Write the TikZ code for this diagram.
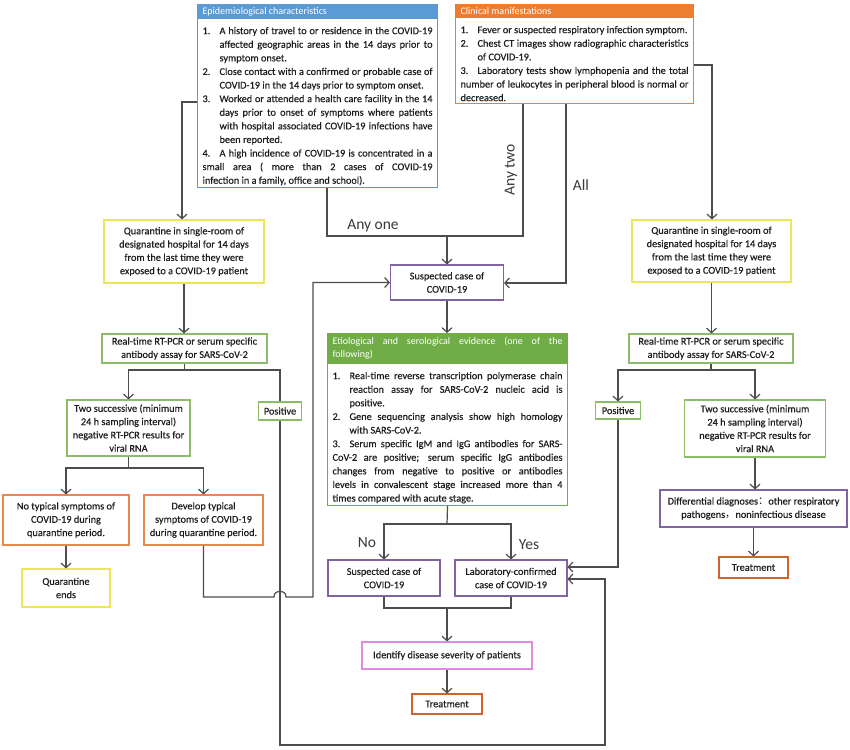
\documentclass[tikz,border=0pt]{standalone}
\usepackage{fontspec}
\setmainfont{Carlito}[FakeBold=0.35]
\newfontfamily\hdrfont{Carlito}
\newfontfamily\cjk{Noto Sans CJK SC}
\usetikzlibrary{arrows.meta}
\definecolor{txt}{HTML}{1E1E1E}
\definecolor{cLine}{HTML}{4D4D4D}
\definecolor{cLbl}{HTML}{3A3A3A}
\definecolor{cBlue}{HTML}{5B9BD5}
\definecolor{cOrange}{HTML}{ED7D31}
\definecolor{cGreenH}{HTML}{70AD47}
\definecolor{cGrn}{HTML}{8CBD6A}
\definecolor{cYel}{HTML}{EEE65A}
\definecolor{cPur}{HTML}{8064A2}
\definecolor{cOrg}{HTML}{E8874E}
\definecolor{cTrt}{HTML}{D0652B}
\definecolor{cPink}{HTML}{E28AE0}
\newcommand{\lstitem}[2]{\par\baselineskip=13.6pt\parskip=0pt\lineskiplimit=-20pt\noindent\hangindent=17pt\hangafter=1\makebox[17pt][l]{#1}\ignorespaces#2}
\begin{document}
\begin{tikzpicture}[x=1pt,y=-1pt,
  base/.style={font={\fontsize{10.3}{13.3}\selectfont}, text=txt, align=center, inner sep=1pt, line width=1.1pt},
  ybox/.style={base, draw=cYel},
  gbox/.style={base, draw=cGrn},
  pbox/.style={base, draw=cPur},
  obox/.style={base, draw=cOrg},
  tbox/.style={base, draw=cTrt},
  kbox/.style={base, draw=cPink},
  hdr/.style={font={\hdrfont\fontsize{10}{13.3}\selectfont\hyphenpenalty=10000}, text=white, anchor=north west, inner xsep=5pt, inner ysep=0pt, align=justify, line width=1.1pt},
  lst/.style={font={\fontsize{10.3}{13.6}\selectfont\hyphenpenalty=10000\exhyphenpenalty=10000\tolerance=9999\emergencystretch=10pt}, text=txt, anchor=north west, inner xsep=5pt, inner ysep=2pt, align=justify, line width=1.1pt},
  ln/.style={draw=cLine, line width=1.2pt},
  arr/.style={ln, -{Straight Barb[length=4.5pt,width=10pt]}},
  lbl/.style={font={\hdrfont\fontsize{15.5}{18}\selectfont}, text=cLbl, inner sep=0pt}]
\fill[white] (0,0) rectangle (850,749);
\useasboundingbox (0,0) rectangle (850,749);

% --- top boxes ---
\node[hdr, fill=cBlue, draw=cBlue, text width=230pt, minimum height=14pt] (epiH) at (197,4) {Epidemiological characteristics};
\node[lst, draw=cBlue, text width=230pt, minimum height=166pt] (epi) at (197,18) {%
\lstitem{1.}{A history of travel to or residence in the COVID-19 affected geographic areas in the 14 days prior to symptom onset.}
\lstitem{2.}{Close contact with a confirmed or probable case of COVID-19 in the 14 days prior to symptom onset.}
\lstitem{3.}{Worked or attended a health care facility in the 14 days prior to onset of symptoms where patients with hospital associated COVID-19 infections have been reported.}
\lstitem{4.}{A high incidence of COVID-19 is concentrated in a\linebreak small area ( more than 2 cases of COVID-19\linebreak infection in a family, office and school).}};

\node[hdr, fill=cOrange, draw=cOrange, text width=228pt, minimum height=13pt] (clinH) at (455,4) {Clinical manifestations};
\node[lst, draw=cOrange, text width=228pt, minimum height=85pt] (clin) at (455,17) {%
\lstitem{1.}{Fever or suspected respiratory infection symptom.}
\lstitem{2.}{Chest CT images show radiographic characteristics of COVID-19.}
\lstitem{3.}{Laboratory tests show lymphopenia and the total number of leukocytes in peripheral blood is normal or decreased.}};

% --- quarantine boxes ---
\node[ybox, minimum width=160pt, minimum height=63pt] (qL) at (184,251.5) {Quarantine in single-room of\\designated hospital for 14 days\\from the last time they were\\exposed to a COVID-19 patient};
\node[ybox, minimum width=159pt, minimum height=62pt] (qR) at (711.5,251) {Quarantine in single-room of\\designated hospital for 14 days\\from the last time they were\\exposed to a COVID-19 patient};

\node[pbox, minimum width=113pt, minimum height=35pt] (susp1) at (447,282.5) {Suspected case of\\COVID-19};

% --- RT-PCR ---
\node[gbox, minimum width=165pt, minimum height=29pt] (rtL) at (184.5,348.5) {Real-time RT-PCR or serum specific\\antibody assay for SARS-CoV-2};
\node[gbox, minimum width=164pt, minimum height=29pt] (rtR) at (711,348.5) {Real-time RT-PCR or serum specific\\antibody assay for SARS-CoV-2};

% --- etiological ---
\node[hdr, fill=cGreenH, draw=cGreenH, text width=230pt, minimum height=30pt] (etioH) at (327,333) {Etiological and serological evidence (one of the\linebreak following)};
\node[lst, draw=cGreenH, text width=230pt, minimum height=139pt] (etio) at (327,363) {%
\lstitem{1.}{Real-time reverse transcription polymerase chain reaction assay for SARS-CoV-2 nucleic acid is positive.}
\lstitem{2.}{Gene sequencing analysis show high homology\linebreak with SARS-CoV-2.}
\lstitem{3.}{Serum specific IgM and IgG antibodies for SARS-\linebreak CoV-2 are positive; serum specific IgG antibodies changes from negative to positive or antibodies\linebreak levels in convalescent stage increased more than 4\linebreak times compared with acute stage.}};

% --- second level ---
\node[gbox, minimum width=123pt, minimum height=56pt] (twoL) at (128.5,428) {Two successive (minimum\\24 h sampling interval)\\negative RT-PCR results for\\viral RNA};
\node[gbox, minimum width=43pt, minimum height=18pt] (posL) at (280,411) {Positive};
\node[gbox, minimum width=45pt, minimum height=17pt] (posR) at (618,410.5) {Positive};
\node[gbox, minimum width=141pt, minimum height=57pt] (twoR) at (755,428.5) {Two successive (minimum\\24 h sampling interval)\\negative RT-PCR results for\\viral RNA};
\node[pbox, minimum width=187pt, minimum height=37pt] (diff) at (753.5,508.5) {Differential diagnoses{\cjk ：}other respiratory\\pathogens{\cjk ，}noninfectious disease};
\node[tbox, minimum width=69pt, minimum height=21pt] (treatR) at (753.5,567.5) {Treatment};

\node[obox, minimum width=126pt, minimum height=50pt] (noTyp) at (66,520) {No typical symptoms of\\COVID-19 during\\quarantine period.};
\node[obox, minimum width=119pt, minimum height=50pt] (dev) at (203.5,520) {Develop typical\\symptoms of COVID-19\\during quarantine period.};
\node[ybox, minimum width=88pt, minimum height=38pt] (qEnd) at (66,588) {Quarantine\\ends};

\node[pbox, minimum width=112pt, minimum height=36pt] (susp2) at (384,578) {Suspected case of\\COVID-19};
\node[pbox, minimum width=112pt, minimum height=36pt] (lab) at (511,578) {Laboratory-confirmed\\case of COVID-19};
\node[kbox, minimum width=170pt, minimum height=27pt] (ident) at (447,655.5) {Identify disease severity of patients};
\node[tbox, minimum width=70pt, minimum height=20pt] (treat) at (447,704) {Treatment};

% --- labels ---
\node[lbl] (lAny1) at (373,226) {Any one};
\node[lbl, rotate=90] (lAny2) at (511,170) {Any two};
\node[lbl] (lAll) at (581,185) {All};
\node[lbl] (lNo) at (367,543) {No};
\node[lbl] (lYes) at (529,545) {Yes};

% --- coordinates ---
\coordinate (jA) at (327,236);
\coordinate (jB) at (523,236);
\coordinate (jC) at (566,283);
\coordinate (jD) at (712,65);
\coordinate (jE) at (184.5,370);
\coordinate (jF) at (605,579);
\coordinate (jG) at (618,567);
\coordinate (jH) at (313,597);
\coordinate (jI) at (128.5,468);
\coordinate (jJ) at (447,524);
\coordinate (jK) at (447,608);
\coordinate (jL) at (711,370);
\coordinate (jM) at (182,102);
\coordinate (jN) at (280,745);
\coordinate (jO) at (605,745);

% --- connectors ---
\draw[arr] (epi.west |- jM) -- (jM) -- (jM |- qL.north);
\draw[arr] (clin.east |- jD) -- (jD) -- (jD |- qR.north);
\draw[ln] (epi.south -| jA) -- (jA) -- (jB) -- (clin.south -| jB);
\draw[arr] (susp1.north |- jA) -- (susp1.north);
\draw[arr] (clin.south -| jC) -- (jC) -- (jC -| susp1.east);
\draw[arr] (susp1.south) -- (etioH.north -| susp1.south);

\draw[arr] (qL.south) -- (qL.south |- rtL.north);
\draw[arr] (qR.south) -- (qR.south |- rtR.north);

\draw[ln] (rtL.south) -- (jE);
\draw[arr] (jE) -| (twoL.north);
\draw[ln] (jE) -| (posL.north);
\draw[arr] (posL.south) -- (jN) -- (jO) -- (jF) -- (jF -| lab.east);

\draw[ln] (twoL.south) -- (jI);
\draw[arr] (jI) -| (noTyp.north);
\draw[arr] (jI) -| (dev.north);
\draw[arr] (noTyp.south) -- (noTyp.south |- qEnd.north);
\draw[arr] (dev.south) -- (dev.south |- jH) -- (274,597) .. controls (274,589) and (286,589) .. (286,597) -- (jH) -- (jH |- susp1.west) -- (susp1.west);

\draw[ln] (etio.south) -- (jJ);
\draw[arr] (jJ) -| (susp2.north);
\draw[arr] (jJ) -| (lab.north);
\draw[ln] (susp2.south) -- (susp2.south |- jK) -- (lab.south |- jK) -- (lab.south);
\draw[arr] (jK) -- (ident.north);
\draw[arr] (ident.south) -- (treat.north);

\draw[ln] (rtR.south) -- (jL);
\draw[arr] (jL) -| (posR.north);
\draw[arr] (jL) -| (twoR.north);
\draw[arr] (posR.south) -- (jG) -- (jG -| lab.east);
\draw[arr] (twoR.south) -- (twoR.south |- diff.north);
\draw[arr] (diff.south) -- (diff.south |- treatR.north);
\end{tikzpicture}
\end{document}
